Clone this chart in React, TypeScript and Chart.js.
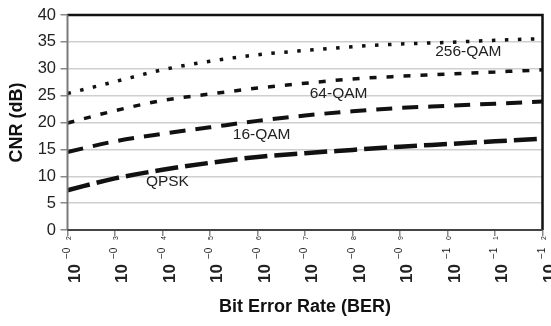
import React, { useEffect, useRef } from "react";
import { Chart, registerables } from "chart.js";

Chart.register(...registerables);

const berExponents = [2, 3, 4, 5, 6, 7, 8, 9, 10, 11, 12];
const tickExpMajor = ["−0", "−0", "−0", "−0", "−0", "−0", "−0", "−0", "−1", "−1", "−1"];
const tickExpMinor = ["2", "3", "4", "5", "6", "7", "8", "9", "0", "1", "2"];

const qam256 = [25.4, 27.6, 29.8, 31.4, 32.6, 33.4, 34.1, 34.6, 34.9, 35.3, 35.6];
const qam64 = [19.9, 22.2, 24.1, 25.3, 26.4, 27.3, 28.1, 28.6, 29.0, 29.4, 29.8];
const qam16 = [14.5, 16.5, 17.9, 19.1, 20.3, 21.3, 22.1, 22.7, 23.1, 23.5, 23.9];
const qpsk = [7.4, 9.6, 11.2, 12.5, 13.6, 14.3, 14.9, 15.5, 16.0, 16.5, 17.0];

const seriesNames = ["256-QAM", "64-QAM", "16-QAM", "QPSK"];
const labelX = [9.74, 7.1, 5.48, 3.65];
const labelY = [33.1, 25.4, 17.8, 8.9];

const FONT = "'Liberation Sans', Arial, Helvetica, sans-serif";

export default function App() {
  const ref = useRef<HTMLCanvasElement | null>(null);

  useEffect(() => {
    const canvas = ref.current;
    if (!canvas) return;
    const mk = (vals: number[]) => vals.map((v, i) => ({ x: berExponents[i], y: v }));

    const overlay = {
      id: "overlay",
      afterDraw(chart: any) {
        const { ctx, chartArea } = chart;
        const xs = chart.scales.x;
        const ys = chart.scales.y;
        ctx.save();
        // borders
        ctx.strokeStyle = "#111";
        ctx.lineWidth = 2.5;
        ctx.beginPath();
        ctx.moveTo(chartArea.left, chartArea.top);
        ctx.lineTo(chartArea.right, chartArea.top);
        ctx.lineTo(chartArea.right, chartArea.bottom);
        ctx.stroke();
        ctx.strokeStyle = "#7a7a7a";
        ctx.lineWidth = 2;
        ctx.beginPath();
        ctx.moveTo(chartArea.left, chartArea.top);
        ctx.lineTo(chartArea.left, chartArea.bottom);
        ctx.stroke();
        ctx.strokeStyle = "#444";
        ctx.beginPath();
        ctx.moveTo(chartArea.left, chartArea.bottom);
        ctx.lineTo(chartArea.right, chartArea.bottom);
        ctx.stroke();

        // series labels
        ctx.fillStyle = "#222";
        ctx.font = `15.5px ${FONT}`;
        ctx.textAlign = "left";
        ctx.textBaseline = "middle";
        seriesNames.forEach((n, i) => {
          ctx.fillText(n, xs.getPixelForValue(labelX[i]), ys.getPixelForValue(labelY[i]));
        });

        // x tick labels (rotated)
        berExponents.forEach((e, i) => {
          const px = xs.getPixelForValue(e);
          ctx.save();
          ctx.translate(px, 0);
          ctx.rotate(-Math.PI / 2);
          ctx.textAlign = "left";
          ctx.textBaseline = "alphabetic";
          ctx.fillStyle = "#222";
          ctx.font = `bold 17px ${FONT}`;
          ctx.fillText("10", -283, 12);
          ctx.font = `10px ${FONT}`;
          ctx.fillText(tickExpMajor[i], -259, 2);
          ctx.font = `7px ${FONT}`;
          ctx.fillText(tickExpMinor[i], -240, 3);
          ctx.restore();
        });

        // axis titles
        ctx.fillStyle = "#111";
        ctx.font = `bold 18px ${FONT}`;
        ctx.textAlign = "center";
        ctx.textBaseline = "middle";
        ctx.fillText("Bit Error Rate (BER)", (chartArea.left + chartArea.right) / 2, 307);
        ctx.save();
        ctx.translate(17, (chartArea.top + chartArea.bottom) / 2);
        ctx.rotate(-Math.PI / 2);
        ctx.fillText("CNR (dB)", 0, 0);
        ctx.restore();
        ctx.restore();
      },
    };

    const common = {
      borderColor: "#111",
      fill: false,
      pointRadius: 0,
      cubicInterpolationMode: "monotone" as const,
      borderCapStyle: "butt" as const,
    };

    const chart = new Chart(canvas, {
      type: "line",
      data: {
        datasets: [
          { ...common, label: seriesNames[0], data: mk(qam256), borderWidth: 3.5, borderDash: [3.5, 9.5] },
          { ...common, label: seriesNames[1], data: mk(qam64), borderWidth: 3.5, borderDash: [7, 10] },
          { ...common, label: seriesNames[2], data: mk(qam16), borderWidth: 4, borderDash: [16, 10] },
          { ...common, label: seriesNames[3], data: mk(qpsk), borderWidth: 4.5, borderDash: [23, 7] },
        ],
      },
      options: {
        animation: false,
        responsive: false,
        maintainAspectRatio: false,
        layout: { padding: { top: 15, right: 8.5, left: 0, bottom: 0 } },
        plugins: { legend: { display: false }, tooltip: { enabled: false } },
        scales: {
          x: {
            type: "linear",
            min: 2,
            max: 12,
            ticks: { stepSize: 1, display: false },
            grid: { drawOnChartArea: false, drawTicks: true, tickLength: 6, color: "#888", lineWidth: 1.5 },
            border: { display: false },
            afterFit: (s: any) => {
              s.height = 96;
            },
          },
          y: {
            min: 0,
            max: 40,
            ticks: {
              stepSize: 5,
              padding: 4.5,
              color: "#222",
              font: { family: FONT, size: 16.5 },
            },
            grid: { color: "#cfcfcf", lineWidth: 1.5, tickLength: 7, tickColor: "#888" },
            border: { display: false },
            afterFit: (s: any) => {
              s.width = 67.5;
            },
          },
        },
      },
      plugins: [overlay],
    });
    return () => chart.destroy();
  }, []);

  return (
    <div style={{ position: "absolute", left: 0, top: 0, width: 551, height: 326, background: "#fff" }}>
      <canvas ref={ref} width={551} height={326} />
    </div>
  );
}
